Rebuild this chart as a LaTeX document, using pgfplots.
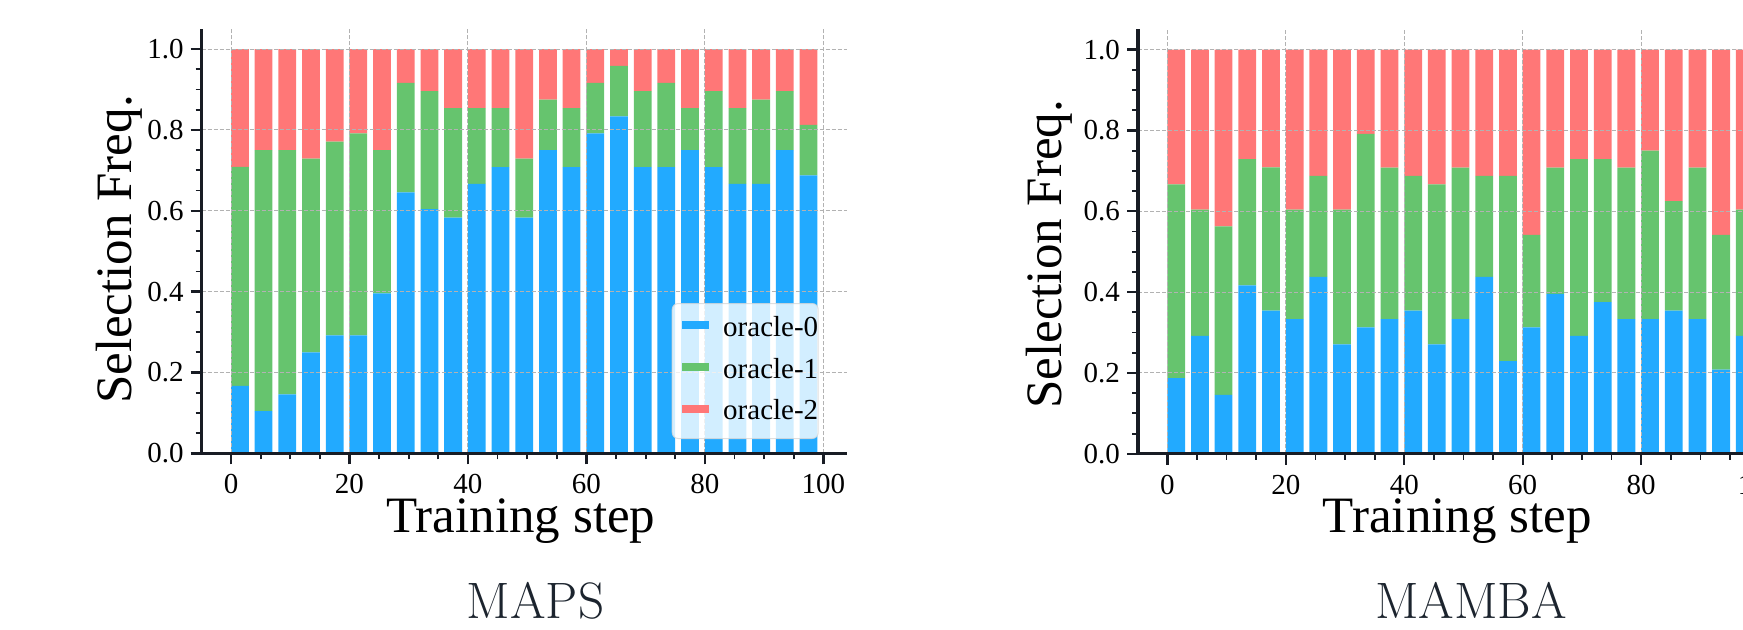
\documentclass[border=0pt]{standalone}
\usepackage{fontspec}
\setmainfont{Liberation Serif}
\usepackage{pgfplots}
\usepackage{pgfplotstable}
\pgfplotsset{compat=1.18}
\definecolor{bluec}{RGB}{34,170,255}
\definecolor{greenc}{RGB}{102,196,110}
\definecolor{redc}{RGB}{255,119,119}
\definecolor{spine}{RGB}{24,28,36}
\definecolor{gridc}{RGB}{178,178,178}
\definecolor{capc}{RGB}{28,36,46}
\definecolor{legdraw}{RGB}{215,215,215}
\newcommand\tickfont{\fontsize{14.5}{17}\selectfont}
\newcommand\labfont{\fontsize{25.5}{30}\selectfont}
\newcommand\capfont{\fontfamily{lmr}\fontsize{25.6}{30}\selectfont}

% MAPS: oracle-0, oracle-1, oracle-2 selection frequencies
\pgfplotstableread{
step o0 o1 o2
0  0.1667 0.5417 0.2917
4  0.1042 0.6458 0.2500
8  0.1458 0.6042 0.2500
12 0.2500 0.4792 0.2708
16 0.2917 0.4792 0.2292
20 0.2917 0.5000 0.2083
24 0.3958 0.3542 0.2500
28 0.6458 0.2708 0.0833
32 0.6042 0.2917 0.1042
36 0.5833 0.2708 0.1458
40 0.6667 0.1875 0.1458
44 0.7083 0.1458 0.1458
48 0.5833 0.1458 0.2708
52 0.7500 0.1250 0.1250
56 0.7083 0.1458 0.1458
60 0.7917 0.1250 0.0833
64 0.8333 0.1250 0.0417
68 0.7083 0.1875 0.1042
72 0.7083 0.2083 0.0833
76 0.7500 0.1042 0.1458
80 0.7083 0.1875 0.1042
84 0.6667 0.1875 0.1458
88 0.6667 0.2083 0.1250
92 0.7500 0.1458 0.1042
96 0.6875 0.1250 0.1875
}\mapsdata

% MAMBA
\pgfplotstableread{
step o0 o1 o2
0  0.1875 0.4792 0.3333
4  0.2917 0.3125 0.3958
8  0.1458 0.4167 0.4375
12 0.4167 0.3125 0.2708
16 0.3542 0.3542 0.2917
20 0.3333 0.2708 0.3958
24 0.4375 0.2500 0.3125
28 0.2708 0.3333 0.3958
32 0.3125 0.4792 0.2083
36 0.3333 0.3750 0.2917
40 0.3542 0.3333 0.3125
44 0.2708 0.3958 0.3333
48 0.3333 0.3750 0.2917
52 0.4375 0.2500 0.3125
56 0.2292 0.4583 0.3125
60 0.3125 0.2292 0.4583
64 0.3958 0.3125 0.2917
68 0.2917 0.4375 0.2708
72 0.3750 0.3542 0.2708
76 0.3333 0.3750 0.2917
80 0.3333 0.4167 0.2500
84 0.3542 0.2708 0.3750
88 0.3333 0.3750 0.2917
92 0.2083 0.3333 0.4583
96 0.2917 0.3125 0.3958
}\mambadata

\pgfplotsset{
  chart/.style={
    scale only axis, width=322.5pt, height=212.2pt,
    anchor=south west,
    xmin=-4.95, xmax=103.95, ymin=0, ymax=1.05,
    axis x line*=bottom, axis y line*=left,
    axis line style={line width=1.6pt, color=spine},
    tick align=outside,
    major tick length=5.5pt, minor tick length=3pt,
    major tick style={line width=1.2pt, color=spine},
    minor tick style={line width=0.9pt, color=spine},
    xtick={0,20,40,60,80,100}, ytick={0,0.2,0.4,0.6,0.8,1},
    minor x tick num=3, minor y tick num=3,
    xmajorgrids, ymajorgrids,
    major grid style={dash pattern=on 2pt off 1pt, line width=0.5pt, color=gridc},
    axis on top,
    ticklabel style={font=\tickfont},
    xticklabel style={inner sep=0pt}, xticklabel shift=4.8pt,
    /pgf/number format/assume math mode=true,
    yticklabel style={/pgf/number format/fixed, /pgf/number format/fixed zerofill, /pgf/number format/precision=1},
    xlabel={Training step}, ylabel={Selection Freq.},
    label style={font=\labfont},
    xlabel style={at={(axis description cs:0.495,-0.1855)}, anchor=base, inner sep=0pt, text height=0.68em},
    ybar stacked, bar width=3, bar shift=1.5,
    legend image code/.code={\path (0pt,0pt); \fill[sharp corners, fill opacity=1, draw=none] (5pt,-0.07pt) rectangle (18.35pt,4.07pt);},
    every axis plot post/.append style={legend image code/.code={\path (0pt,0pt); \fill[sharp corners, fill opacity=1, draw=none] (5pt,-0.07pt) rectangle (18.35pt,4.07pt);}},
  },
}

\begin{document}
\begin{tikzpicture}
\path[use as bounding box] (0,0) rectangle (871.5pt,314.5pt);
\clip (0,0) rectangle (871.5pt,314.5pt);

\begin{axis}[chart, at={(100.85pt,87.85pt)},
  ylabel style={at={(axis description cs:-0.1085,0.48)}, anchor=base},
  legend style={at={(axis description cs:0.7287,0.0337)}, anchor=south west,
    fill=white, fill opacity=0.8, draw=legdraw, draw opacity=0.8, text opacity=1,
    line width=0.5pt, rounded corners=3pt, inner xsep=0pt, inner ysep=6.4pt,
    font=\tickfont, cells={anchor=west},
    nodes={inner sep=0pt, text height=10pt, text depth=3pt},
    /tikz/row sep=7.85pt, /tikz/column sep=7.15pt},
]
\addplot[fill=bluec, draw=none] table[x=step, y=o0] {\mapsdata};
\addplot[fill=greenc, draw=none] table[x=step, y=o1] {\mapsdata};
\addplot[fill=redc, draw=none] table[x=step, y=o2] {\mapsdata};
\legend{oracle-0, oracle-1, oracle-2}
\end{axis}

\begin{axis}[chart, at={(569pt,87.6pt)},
  ylabel style={at={(axis description cs:-0.118,0.47)}, anchor=base},
]
\addplot[fill=bluec, draw=none] table[x=step, y=o0] {\mambadata};
\addplot[fill=greenc, draw=none] table[x=step, y=o1] {\mambadata};
\addplot[fill=redc, draw=none] table[x=step, y=o2] {\mambadata};
\end{axis}

\node[anchor=base, font=\capfont, text=capc] at (267.75pt,5.5pt) {MAPS};
\node[anchor=base, font=\capfont, text=capc] at (735.5pt,5.5pt) {MAMBA};
\end{tikzpicture}
\end{document}
